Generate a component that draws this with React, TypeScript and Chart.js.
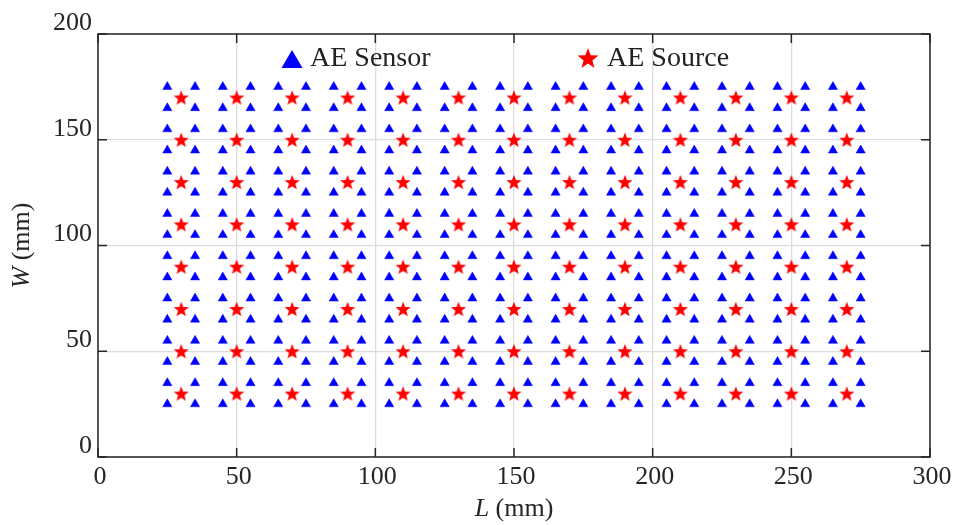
import React, { useEffect, useRef } from "react";
import { Chart, registerables } from "chart.js";

Chart.register(...registerables);

// ---- data ----
const sensorL = [25, 35, 45, 55, 65, 75, 85, 95, 105, 115, 125, 135, 145, 155, 165, 175, 185, 195, 205, 215, 225, 235, 245, 255, 265, 275];
const sensorW = [25, 35, 45, 55, 65, 75, 85, 95, 105, 115, 125, 135, 145, 155, 165, 175];
const sourceL = [30, 50, 70, 90, 110, 130, 150, 170, 190, 210, 230, 250, 270];
const sourceW = [30, 50, 70, 90, 110, 130, 150, 170];
const xTicks = [0, 50, 100, 150, 200, 250, 300];
const yTicks = [0, 50, 100, 150, 200];
const legendLabels = ["AE Sensor", "AE Source"];

const FONT = '"Liberation Serif", "Times New Roman", serif';
const AXIS_COLOR = "#262626";
const GRID_COLOR = "#dcdcdc";
const BLUE = "#0000ff";
const RED = "#ff0000";

function starPath(ctx: CanvasRenderingContext2D, cx: number, cy: number, R: number) {
  const r = R * 0.42;
  ctx.beginPath();
  for (let i = 0; i < 10; i++) {
    const rad = (Math.PI / 5) * i;
    const rr = i % 2 === 0 ? R : r;
    const x = cx + Math.sin(rad) * rr;
    const y = cy - Math.cos(rad) * rr;
    if (i === 0) ctx.moveTo(x, y);
    else ctx.lineTo(x, y);
  }
  ctx.closePath();
}

function makeStar(R: number): HTMLCanvasElement {
  const size = Math.ceil(R * 2 + 2);
  const c = document.createElement("canvas");
  c.width = size;
  c.height = size;
  const ctx = c.getContext("2d")!;
  ctx.fillStyle = RED;
  starPath(ctx, size / 2, size / 2 + R * 0.1, R);
  ctx.fill();
  return c;
}

function trianglePath(ctx: CanvasRenderingContext2D, cx: number, cy: number, side: number) {
  const h = (side * Math.sqrt(3)) / 2;
  ctx.beginPath();
  ctx.moveTo(cx, cy - h / 2);
  ctx.lineTo(cx + side / 2, cy + h / 2);
  ctx.lineTo(cx - side / 2, cy + h / 2);
  ctx.closePath();
}

const framePlugin = {
  id: "frame",
  afterDraw(chart: any) {
    const { ctx, chartArea, scales } = chart;
    const { left, right, top, bottom } = chartArea;
    ctx.save();
    ctx.strokeStyle = AXIS_COLOR;
    ctx.lineWidth = 1.5;
    ctx.strokeRect(left, top, right - left, bottom - top);
    const tl = 9;
    ctx.beginPath();
    for (const v of xTicks) {
      const px = scales.x.getPixelForValue(v);
      ctx.moveTo(px, bottom);
      ctx.lineTo(px, bottom - tl);
      ctx.moveTo(px, top);
      ctx.lineTo(px, top + tl);
    }
    for (const v of yTicks) {
      const py = scales.y.getPixelForValue(v);
      ctx.moveTo(left, py);
      ctx.lineTo(left + tl, py);
      ctx.moveTo(right, py);
      ctx.lineTo(right - tl, py);
    }
    ctx.stroke();

    // axis titles
    ctx.fillStyle = AXIS_COLOR;
    ctx.textBaseline = "middle";
    const fs = 26;
    const drawMixed = (italic: string, rest: string, cx: number, cy: number) => {
      ctx.font = `italic ${fs}px ${FONT}`;
      const w1 = ctx.measureText(italic).width;
      ctx.font = `${fs}px ${FONT}`;
      const w2 = ctx.measureText(rest).width;
      const start = cx - (w1 + w2) / 2;
      ctx.textAlign = "left";
      ctx.font = `italic ${fs}px ${FONT}`;
      ctx.fillText(italic, start, cy);
      ctx.font = `${fs}px ${FONT}`;
      ctx.fillText(rest, start + w1, cy);
    };
    drawMixed("L", " (mm)", (left + right) / 2, 509);
    ctx.save();
    ctx.translate(22, (top + bottom) / 2);
    ctx.rotate(-Math.PI / 2);
    drawMixed("W", " (mm)", 0, 0);
    ctx.restore();

    // legend
    const ly = 58;
    ctx.fillStyle = BLUE;
    trianglePath(ctx, 292, ly + 1, 21);
    ctx.fill();
    ctx.fillStyle = RED;
    starPath(ctx, 588, ly + 1, 11);
    ctx.fill();
    ctx.fillStyle = "#222222";
    ctx.font = `28px ${FONT}`;
    ctx.textAlign = "left";
    ctx.fillText(legendLabels[0], 310, ly + 1);
    ctx.fillText(legendLabels[1], 607, ly + 1);
    ctx.restore();
  },
};

export default function App() {
  const canvasRef = useRef<HTMLCanvasElement | null>(null);

  useEffect(() => {
    document.body.style.margin = "0";
    const canvas = canvasRef.current!;
    const sensorPts: { x: number; y: number }[] = [];
    for (const x of sensorL) for (const y of sensorW) sensorPts.push({ x, y });
    const sourcePts: { x: number; y: number }[] = [];
    for (const x of sourceL) for (const y of sourceW) sourcePts.push({ x, y });

    const star = makeStar(8);

    const chart = new Chart(canvas, {
      type: "scatter",
      data: {
        datasets: [
          {
            label: legendLabels[0],
            data: sensorPts,
            pointStyle: "triangle",
            pointRadius: 5.3,
            backgroundColor: BLUE,
            borderColor: BLUE,
            borderWidth: 0.5,
          },
          {
            label: legendLabels[1],
            data: sourcePts,
            pointStyle: star as any,
            pointRadius: 8,
            backgroundColor: RED,
            borderColor: RED,
          },
        ],
      },
      options: {
        animation: false,
        responsive: false,
        events: [],
        layout: { padding: { top: 34, right: 26, left: 0, bottom: 0 } },
        plugins: {
          legend: { display: false },
          tooltip: { enabled: false },
        },
        scales: {
          x: {
            type: "linear",
            min: 0,
            max: 300,
            position: "bottom",
            afterFit: (s: any) => {
              s.height = 68;
            },
            afterBuildTicks: (s: any) => {
              s.ticks = xTicks.map((v) => ({ value: v }));
            },
            ticks: {
              font: { family: FONT, size: 26 },
              color: AXIS_COLOR,
              padding: 5,
              labelOffset: 2,
              maxRotation: 0,
              autoSkip: false,
            },
            grid: { color: GRID_COLOR, lineWidth: 1.3, drawTicks: false },
            border: { display: false },
          },
          y: {
            type: "linear",
            min: 0,
            max: 200,
            afterFit: (s: any) => {
              s.width = 98;
            },
            afterBuildTicks: (s: any) => {
              s.ticks = yTicks.map((v) => ({ value: v }));
            },
            ticks: {
              font: { family: FONT, size: 26 },
              color: AXIS_COLOR,
              padding: 6,
              labelOffset: -11,
              autoSkip: false,
            },
            grid: { color: GRID_COLOR, lineWidth: 1.3, drawTicks: false },
            border: { display: false },
          },
        },
      },
      plugins: [framePlugin],
    });
    return () => chart.destroy();
  }, []);

  return (
    <div style={{ position: "relative", width: 956, height: 525, background: "#ffffff" }}>
      <canvas ref={canvasRef} width={956} height={525} style={{ display: "block" }} />
    </div>
  );
}
